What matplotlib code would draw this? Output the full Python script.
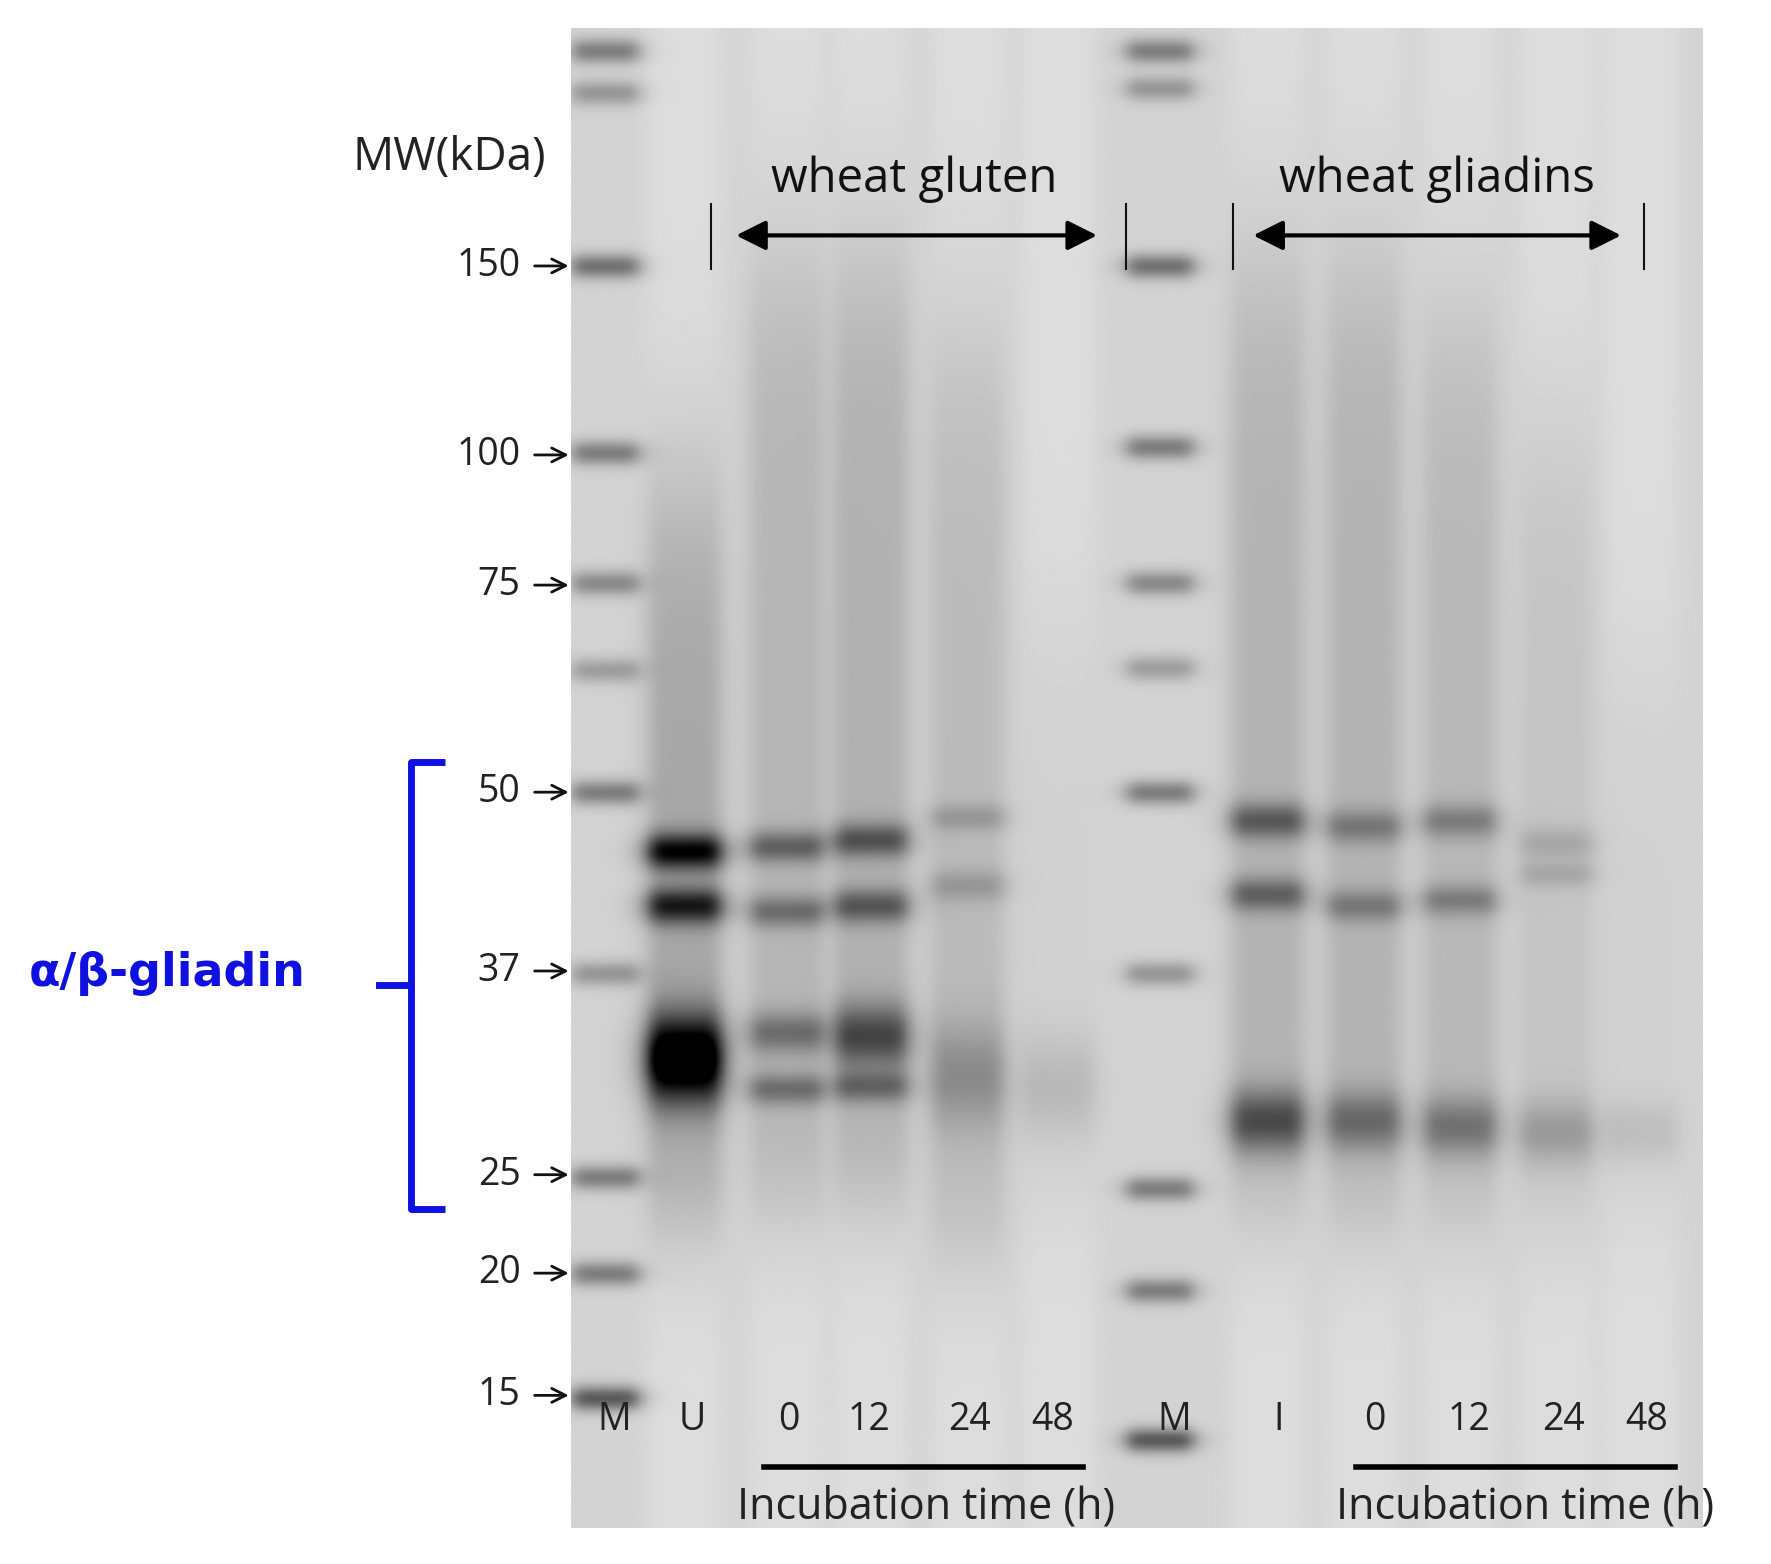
import matplotlib.pyplot as plt
import numpy as np

# layout in reference display units (1565 x 1382), y downward
W, H = 1565, 1382

# marker lanes: centre x, band y positions
marker_x = [535, 1025]
marker_bands = [
    [45, 82, 235, 400, 515, 592, 700, 860, 1040, 1125, 1235],
    [45, 78, 235, 395, 515, 590, 700, 860, 1050, 1140, 1272],
]
marker_strength = [0.35, 0.25, 0.4, 0.35, 0.3, 0.22, 0.35, 0.25, 0.35, 0.35, 0.5]

# sample lanes: centre x, bands (y, strength, half-height), smear (top, bottom, strength)
lane_x = [605, 695, 770, 855, 935, 1120, 1205, 1290, 1375, 1450]
lane_bands = [
    [(752, 0.7, 16), (800, 0.6, 16), (935, 0.95, 38)],
    [(748, 0.35, 14), (805, 0.3, 14), (912, 0.3, 18), (962, 0.3, 14)],
    [(742, 0.4, 15), (800, 0.38, 15), (915, 0.45, 28), (960, 0.3, 14)],
    [(722, 0.15, 12), (782, 0.15, 14), (950, 0.2, 45)],
    [(960, 0.1, 45)],
    [(725, 0.38, 16), (790, 0.35, 15), (990, 0.45, 28)],
    [(730, 0.25, 15), (800, 0.25, 14), (990, 0.32, 26)],
    [(725, 0.25, 15), (795, 0.25, 14), (995, 0.3, 26)],
    [(745, 0.12, 14), (772, 0.12, 12), (1000, 0.18, 28)],
    [(1000, 0.08, 28)],
]
lane_smear = [
    (430, 1080, 0.22), (230, 1070, 0.16), (230, 1060, 0.18), (300, 1110, 0.14), (560, 1060, 0.05),
    (230, 1070, 0.17), (230, 1080, 0.17), (280, 1080, 0.15), (380, 1080, 0.1), (600, 1060, 0.05),
]

mw_labels = ["150", "100", "75", "50", "37", "25", "20", "15"]
mw_y = [235, 402, 517, 700, 858, 1038, 1125, 1233]

lane_labels = ["M", "U", "0", "12", "24", "48", "M", "I", "0", "12", "24", "48"]
lane_label_x = [543, 612, 697, 768, 857, 930, 1038, 1130, 1215, 1298, 1382, 1455]

# synthetic gel image
gx0, gx1, gy0, gy1 = 505, 1505, 25, 1350
xs = np.arange(gx0, gx1)
ys = np.arange(gy0, gy1)
X, Y = np.meshgrid(xs, ys)
dens = np.full(X.shape, 0.16)


def lane_profile(cx, half):
    return 1.0 / (1.0 + ((X - cx) / half) ** 6)


for cx, bands in zip(marker_x, marker_bands):
    prof = lane_profile(cx, 30)
    for by, s in zip(bands, marker_strength):
        dens += s * prof * np.exp(-((Y - by) / 11.0) ** 2)

for cx, bands, (t, b, s) in zip(lane_x, lane_bands, lane_smear):
    prof = lane_profile(cx, 33)
    dens -= 0.04 * prof
    sm = 1.0 / (1.0 + np.exp(-(Y - t) / 50.0)) / (1.0 + np.exp((Y - b) / 30.0))
    dens += s * prof * sm
    for by, st, hh in bands:
        dens += st * prof * np.exp(-((Y - by) / hh) ** 2)

gray = np.clip(0.98 - 0.95 * dens, 0, 1)

fig = plt.figure(figsize=(17.71, 15.64), dpi=100)
ax = fig.add_axes([0, 0, 1, 1])
ax.set_xlim(0, W)
ax.set_ylim(H, 0)
ax.axis("off")
ax.imshow(gray, cmap="gray", vmin=0, vmax=1, extent=(gx0, gx1, gy1, gy0), aspect="auto")

fs_label = 27
ax.text(397, 140, "MW(kDa)", fontsize=33, ha="center", va="center", family="Open Sans", color="#222")
for lab, y in zip(mw_labels, mw_y):
    ax.text(460, y, lab, fontsize=fs_label, ha="right", va="center", family="Open Sans", color="#222")
    ax.annotate("", xy=(505, y), xytext=(470, y),
                arrowprops=dict(arrowstyle="->", lw=2, color="#111", mutation_scale=25))

# blue bracket
ax.plot([393, 363, 363, 393], [673, 673, 1068, 1068], color="#1010e0", lw=5, solid_capstyle="butt")
ax.plot([335, 363], [870, 870], color="#1010e0", lw=5)
ax.text(148, 860, "α/β-gliadin", fontsize=33, fontweight="bold", color="#1010e0",
        ha="center", va="center", family="DejaVu Sans")

# group headers
for cx, text, a0, a1, v0, v1 in [(808, "wheat gluten", 648, 972, 628, 995),
                                  (1270, "wheat gliadins", 1105, 1435, 1090, 1453)]:
    ax.text(cx, 158, text, fontsize=34, ha="center", va="center", family="Open Sans", color="#111")
    ax.annotate("", xy=(a1, 208), xytext=(a0, 208),
                arrowprops=dict(arrowstyle="<|-|>", lw=3, color="#000", mutation_scale=45))
    for vx in (v0, v1):
        ax.plot([vx, vx], [180, 238], color="#111", lw=1.5)

for lab, x in zip(lane_labels, lane_label_x):
    ax.text(x, 1255, lab, fontsize=fs_label, ha="center", va="center", family="Open Sans", color="#222")

for x0, x1, cx in [(675, 957, 818), (1198, 1480, 1348)]:
    ax.plot([x0, x1], [1296, 1296], color="#000", lw=4)
    ax.text(cx, 1332, "Incubation time (h)", fontsize=31, ha="center", va="center",
            family="Open Sans", color="#222")

fig.savefig("out.png", dpi=100, facecolor="white")
